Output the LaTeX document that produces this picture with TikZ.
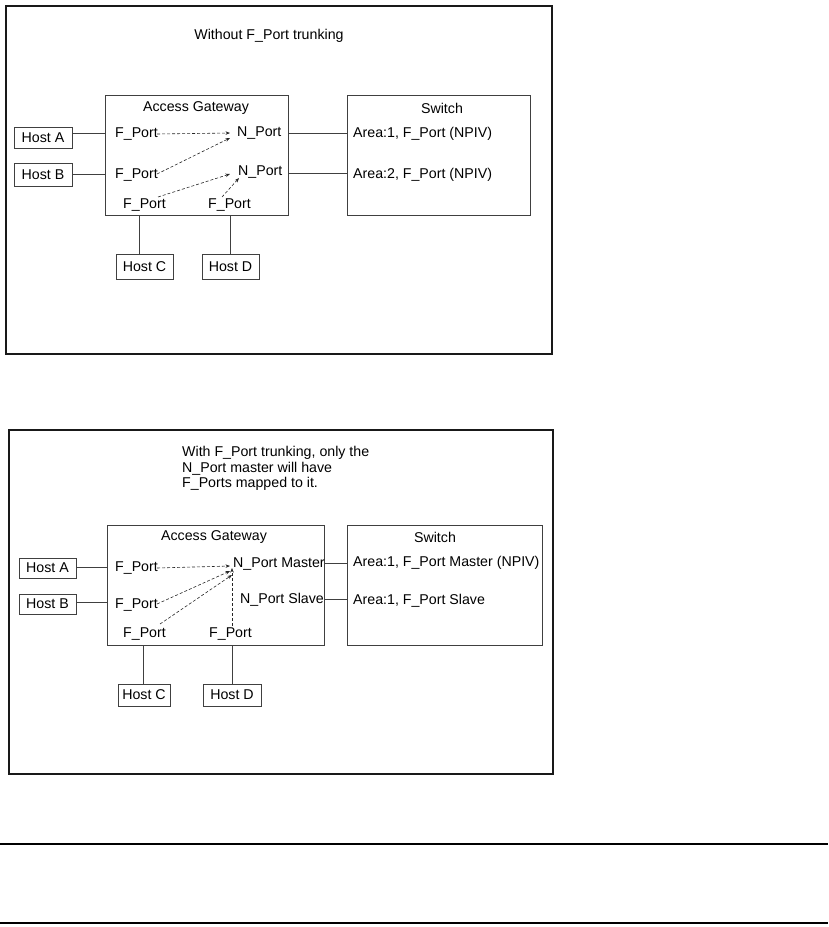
\documentclass[tikz,border=0pt]{standalone}
\usepackage{fontspec}
\setmainfont{Liberation Sans}
\usetikzlibrary{arrows.meta}
\begin{document}
\begin{tikzpicture}[x=1pt,y=-1pt,
  every node/.style={font=\fontsize{14.2}{16}\selectfont},
  frame/.style={draw=black!90,line width=2pt},
  box/.style={draw=black!75,line width=0.8pt,inner sep=0pt},
  lbl/.style={inner sep=0pt,anchor=west},
  link/.style={draw=black!75,line width=0.8pt},
  dash arrow/.style={draw=black!85,line width=0.6pt,dash pattern=on 3pt off 2pt,-{Stealth[length=4.5pt,width=3.5pt]}},
  rule/.style={line width=2pt}]
\useasboundingbox (0,0) rectangle (828,927);
% ===== top panel =====
\node[frame,minimum width=546pt,minimum height=348pt,anchor=north west,inner sep=0pt] (outer1) at (5,5) {};
\node (title1) at (269,36) {Without F\_Port trunking};
\node[box,minimum width=183pt,minimum height=120pt,anchor=north west] (ag1) at (105,95) {};
\node at (196,108) {Access Gateway};
\node[box,minimum width=183pt,minimum height=120pt,anchor=north west] (sw1) at (347,95) {};
\node at (442,108) {Switch};
\node[box,minimum width=58pt,minimum height=21pt] (hA1) at (43,137.5) {Host A};
\node[box,minimum width=58pt,minimum height=23pt] (hB1) at (43,174.5) {Host B};
\node[box,minimum width=57pt,minimum height=25pt] (hC1) at (144.5,266.5) {Host C};
\node[box,minimum width=57pt,minimum height=25pt] (hD1) at (230.5,266.5) {Host D};
\node[lbl] (fA1) at (115,134) {F\_Port};
\node[lbl] (fB1) at (115,175) {F\_Port};
\node[lbl] (fC1) at (123,205) {F\_Port};
\node[lbl] (fD1) at (208,205) {F\_Port};
\node[lbl] (nA1) at (237,133) {N\_Port};
\node[lbl] (nB1) at (238,172) {N\_Port};
\node[lbl] (sA1) at (353,134) {Area:1, F\_Port (NPIV)};
\node[lbl] (sB1) at (353,175) {Area:2, F\_Port (NPIV)};
\coordinate (cx1) at (139,0);
\coordinate (dx1) at (230,0);
\coordinate (ya1) at (0,133);
\coordinate (yb1) at (0,174);
\coordinate (yn2) at (0,173);
\coordinate (tA1) at (230,133);
\coordinate (tB1) at (230,138);
\coordinate (tC1) at (230,174);
\coordinate (tD1) at (239,178);
\draw[link] (hA1.east |- ya1) -- (ag1.west |- ya1);
\draw[link] (hB1.east |- yb1) -- (ag1.west |- yb1);
\draw[link] (ag1.east |- ya1) -- (sw1.west |- ya1);
\draw[link] (ag1.east |- yn2) -- (sw1.west |- yn2);
\draw[link] (ag1.south -| cx1) -- (hC1.north -| cx1);
\draw[link] (ag1.south -| dx1) -- (hD1.north -| dx1);
\draw[dash arrow] ([xshift=-1pt,yshift=0pt]fA1.east) -- (tA1);
\draw[dash arrow] ([xshift=-1pt,yshift=1pt]fB1.east) -- (tB1);
\draw[dash arrow] ([xshift=-8pt,yshift=8pt]fC1.east) -- (tC1);
\draw[dash arrow] ([xshift=-29pt,yshift=8pt]fD1.east) -- (tD1);
% ===== bottom panel =====
\node[frame,minimum width=544pt,minimum height=344pt,anchor=north west,inner sep=0pt] (outer2) at (8,429) {};
\node[anchor=north west,align=left,inner sep=0pt,font=\fontsize{14.2}{15.7}\selectfont] (title2) at (182,446) {With F\_Port trunking, only the\\N\_Port master will have\\F\_Ports mapped to it.};
\node[box,minimum width=217pt,minimum height=120pt,anchor=north west] (ag2) at (107,525) {};
\node at (214,537) {Access Gateway};
\node[box,minimum width=195pt,minimum height=120pt,anchor=north west] (sw2) at (347,525) {};
\node at (435,537) {Switch};
\node[box,minimum width=57pt,minimum height=20pt] (hA2) at (47.5,568) {Host A};
\node[box,minimum width=57pt,minimum height=20pt] (hB2) at (47.5,604) {Host B};
\node[box,minimum width=52pt,minimum height=22pt] (hC2) at (144,695) {Host C};
\node[box,minimum width=58pt,minimum height=22pt] (hD2) at (232,695) {Host D};
\node[lbl] (fA2) at (115,568) {F\_Port};
\node[lbl] (fB2) at (115,605) {F\_Port};
\node[lbl] (fC2) at (123,634) {F\_Port};
\node[lbl] (fD2) at (209,634) {F\_Port};
\node[lbl] (nM2) at (233,564) {N\_Port Master};
\node[lbl] (nS2) at (240,600) {N\_Port Slave};
\node[lbl] (sA2) at (353,563) {Area:1, F\_Port Master (NPIV)};
\node[lbl] (sB2) at (353,601) {Area:1, F\_Port Slave};
\coordinate (cx2) at (143,0);
\coordinate (dx2) at (232,0);
\coordinate (ya2) at (0,567);
\coordinate (yb2) at (0,602);
\coordinate (ym2) at (0,563);
\coordinate (ys2) at (0,599);
\coordinate (tA2) at (230,566);
\coordinate (tB2) at (230,571);
\coordinate (tC2) at (232,575);
\coordinate (tD2) at (232,568);
\draw[link] (hA2.east |- ya2) -- (ag2.west |- ya2);
\draw[link] (hB2.east |- yb2) -- (ag2.west |- yb2);
\draw[link] (ag2.east |- ym2) -- (sw2.west |- ym2);
\draw[link] (ag2.east |- ys2) -- (sw2.west |- ys2);
\draw[link] (ag2.south -| cx2) -- (hC2.north -| cx2);
\draw[link] (ag2.south -| dx2) -- (hD2.north -| dx2);
\draw[dash arrow] ([xshift=-1pt,yshift=0pt]fA2.east) -- (tA2);
\draw[dash arrow] ([xshift=-1pt,yshift=1pt]fB2.east) -- (tB2);
\draw[dash arrow] ([xshift=-6pt,yshift=10pt]fC2.east) -- (tC2);
\draw[dash arrow] ([yshift=2pt]fD2.north -| dx2) -- (tD2);
% ===== rules =====
\coordinate (r1l) at (0,844);
\coordinate (r1r) at (828,844);
\coordinate (r2l) at (0,923);
\coordinate (r2r) at (828,923);
\draw[rule] (r1l) -- (r1r);
\draw[rule] (r2l) -- (r2r);
\end{tikzpicture}
\end{document}
